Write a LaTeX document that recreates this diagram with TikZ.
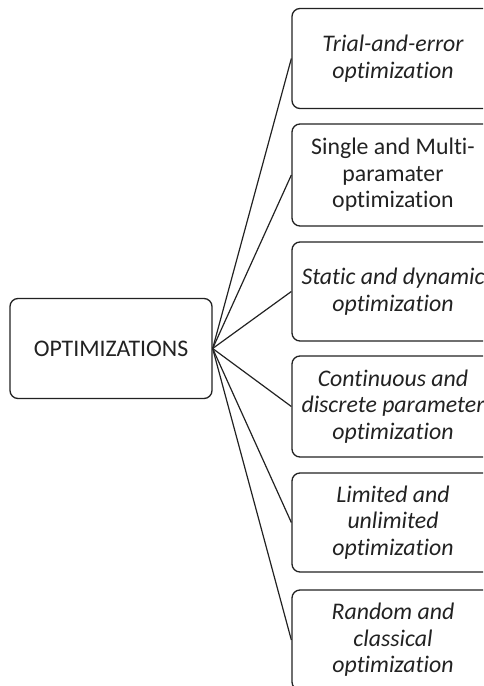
\documentclass[tikz,border=0pt]{standalone}
\usepackage{fontspec}
\setmainfont[Ligatures=NoCommon]{Carlito}
\definecolor{ink}{HTML}{222222}
\begin{document}
\begin{tikzpicture}[x=1pt,y=-1pt,
  box/.style={draw=ink, text=ink, rounded corners=8pt, line width=1.3pt,
    minimum width=202pt, minimum height=100pt, inner sep=0pt,
    align=center, font=\fontsize{23.8}{26.5}\selectfont},
  leaf/.style={box, font=\fontsize{23.8}{26.5}\selectfont\itshape},
  link/.style={draw=ink, line width=1.2pt}]
\useasboundingbox (0,0) rectangle (483,686);
\clip (0,0) rectangle (483,686);
% root
\node[box] (root) at (111,348.5) {OPTIMIZATIONS};
% branches
\node[leaf] (b1) at (393,58.5) {Trial-and-error\\optimization};
\node[box, minimum height=102pt] (b2) at (393,175) {Single and Multi-\\paramater\\optimization};
\node[leaf, minimum height=99pt] (b3) at (393,291.5) {Static and dynamic\\optimization};
\node[leaf, minimum height=101pt] (b4) at (393,406.5) {Continuous and\\discrete parameter\\optimization};
\node[leaf, minimum height=99pt] (b5) at (393,522.5) {Limited and\\unlimited\\optimization};
\node[leaf] (b6) at (393,640) {Random and\\classical\\optimization};
% connectors
\foreach \b in {b1,b2,b3,b4,b5,b6}
  \path[link] (root.east) -- (\b.west);
\end{tikzpicture}
\end{document}
